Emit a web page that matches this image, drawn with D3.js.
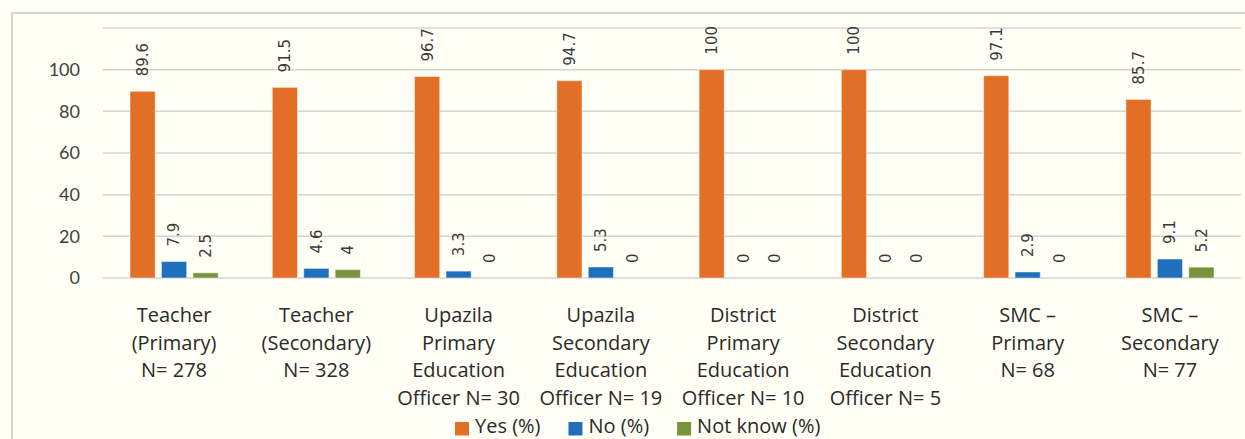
<!DOCTYPE html>
<html>
<head>
<meta charset="utf-8">
<script src="https://cdn.jsdelivr.net/npm/d3@7"></script>
<style>
  html, body { margin: 0; padding: 0; background: #fffff5; }
  svg { display: block; }
  .tick-label { font-family: Lato, "Liberation Sans", sans-serif; font-size: 18px; fill: #404040; }
  .cat { font-family: "Open Sans", "Liberation Sans", sans-serif; font-size: 20px; fill: #2a2a2a; }
  .value { font-family: "DejaVu Sans", sans-serif; font-size: 15px; fill: #3a3a3a; }
  .legend { font-family: "Open Sans", "Liberation Sans", sans-serif; font-size: 20px; fill: #2a2a2a; }
</style>
</head>
<body>
<svg id="chart" width="1245" height="439"></svg>
<script>
const categories = [
  ['Teacher', '(Primary)', 'N= 278'],
  ['Teacher', '(Secondary)', 'N= 328'],
  ['Upazila', 'Primary', 'Education', 'Officer N= 30'],
  ['Upazila', 'Secondary', 'Education', 'Officer N= 19'],
  ['District', 'Primary', 'Education', 'Officer N= 10'],
  ['District', 'Secondary', 'Education', 'Officer N= 5'],
  ['SMC –', 'Primary', 'N= 68'],
  ['SMC –', 'Secondary', 'N= 77']
];
const seriesNames = ['Yes (%)', 'No (%)', 'Not know (%)'];
const yesValues = [89.6, 91.5, 96.7, 94.7, 100, 100, 97.1, 85.7];
const noValues = [7.9, 4.6, 3.3, 5.3, 0, 0, 2.9, 9.1];
const notKnowValues = [2.5, 4, 0, 0, 0, 0, 0, 5.2];
const yTicks = [0, 20, 40, 60, 80, 100];
const gridTicks = [0, 20, 40, 60, 80, 100, 120];
const colors = ['#e36f27', '#1f70ba', '#77933c'];

const series = [yesValues, noValues, notKnowValues];
const rows = categories.map((c, i) => ({
  idx: i,
  values: series.map((s, k) => ({ k: k, v: s[i] }))
}));

const svg = d3.select('#chart');

// outer chart border (only top and left visible)
svg.append('path')
  .attr('d', 'M12,439V13H1245')
  .attr('fill', 'none')
  .attr('stroke', '#d3d3d3')
  .attr('stroke-width', 2);

const plotLeft = 103, plotRight = 1241, plotTop = 28, plotBottom = 278;

const x0 = d3.scaleBand()
  .domain(d3.range(categories.length))
  .range([plotLeft, plotRight])
  .paddingInner(0.381)
  .paddingOuter(0.19);

const x1 = d3.scaleBand()
  .domain(d3.range(series.length))
  .range([0, x0.bandwidth()])
  .paddingInner(0.2);

const y = d3.scaleLinear()
  .domain([0, 120])
  .range([plotBottom, plotTop]);

// grid lines
svg.append('g')
  .selectAll('line')
  .data(gridTicks)
  .enter()
  .append('line')
  .attr('x1', plotLeft)
  .attr('x2', plotRight)
  .attr('y1', d => y(d))
  .attr('y2', d => y(d))
  .attr('stroke', '#d4d4d4')
  .attr('stroke-width', 1.5);

// y tick labels
svg.append('g')
  .selectAll('text')
  .data(yTicks)
  .enter()
  .append('text')
  .attr('class', 'tick-label')
  .attr('x', 80)
  .attr('y', d => y(d))
  .attr('dy', '0.36em')
  .attr('text-anchor', 'end')
  .text(d => d);

const groups = svg.append('g')
  .selectAll('g')
  .data(rows)
  .enter()
  .append('g')
  .attr('transform', d => `translate(${x0(d.idx)},0)`);

groups.selectAll('rect')
  .data(d => d.values)
  .enter()
  .append('rect')
  .attr('x', d => x1(d.k))
  .attr('y', d => y(d.v))
  .attr('width', x1.bandwidth())
  .attr('height', d => plotBottom - y(d.v))
  .attr('fill', d => colors[d.k])
  .attr('stroke', 'rgba(255,255,255,0.45)')
  .attr('stroke-width', 1);

groups.selectAll('text')
  .data(d => d.values)
  .enter()
  .append('text')
  .attr('class', 'value')
  .attr('transform', d => `translate(${x1(d.k) + x1.bandwidth() / 2},${y(d.v) - 15}) rotate(-90)`)
  .attr('dy', '0.36em')
  .attr('text-anchor', 'start')
  .text(d => d.v);

// category labels
const catG = svg.append('g')
  .selectAll('text')
  .data(categories)
  .enter()
  .append('text')
  .attr('class', 'cat')
  .attr('text-anchor', 'middle');

catG.selectAll('tspan')
  .data((d, i) => d.map(line => ({ line: line, i: i })))
  .enter()
  .append('tspan')
  .attr('x', d => x0(d.i) + x0.bandwidth() / 2)
  .attr('y', (d, j) => 322 + j * 27.7)
  .text(d => d.line);

// legend
const legend = svg.append('g');
let lx = 455;
seriesNames.forEach((name, k) => {
  legend.append('rect')
    .attr('x', lx)
    .attr('y', 422)
    .attr('width', 14)
    .attr('height', 13.5)
    .attr('fill', colors[k]);
  const t = legend.append('text')
    .attr('class', 'legend')
    .attr('x', lx + 20)
    .attr('y', 433)
    .text(name);
  lx += 20 + t.node().getComputedTextLength() + 28;
});
</script>
</body>
</html>
